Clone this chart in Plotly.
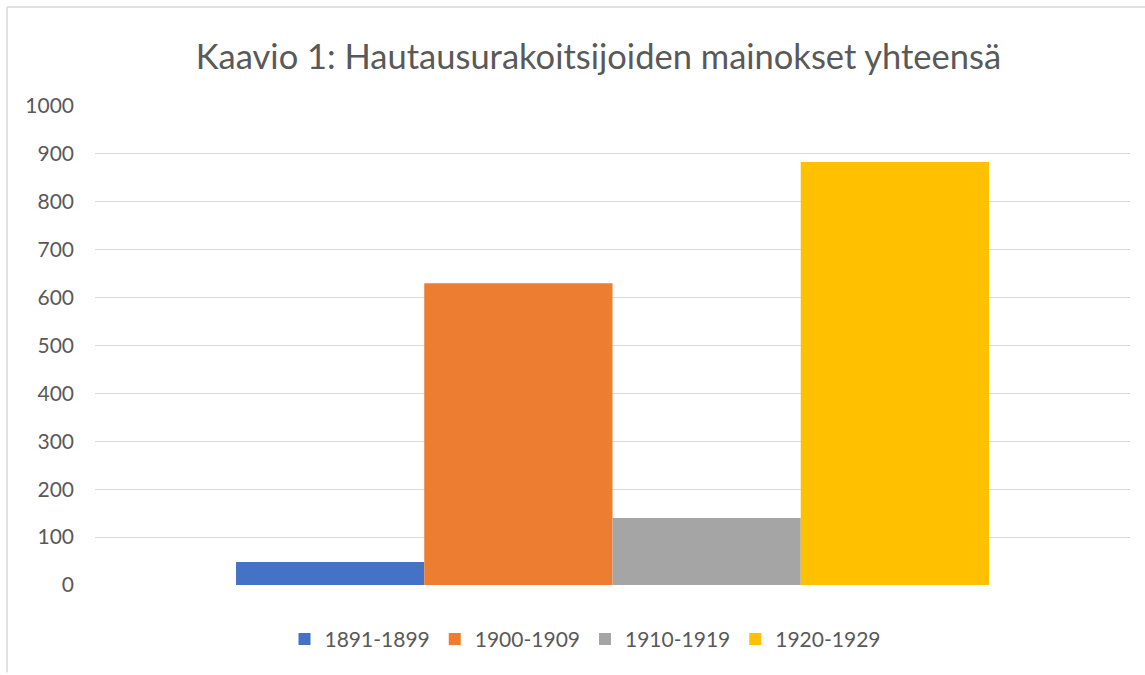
import plotly.graph_objects as go

# Data
category = ["Yhteensä"]
series_names = ["1891-1899", "1900-1909", "1910-1919", "1920-1929"]
series_values = [48, 630, 140, 883]
series_colors = ["#4472C4", "#ED7D31", "#A5A5A5", "#FFC000"]
y_ticks = [0, 100, 200, 300, 400, 500, 600, 700, 800, 900, 1000]

W, H = 1145, 675
L, R, T, B = 95, 15, 106, 89.5
pw, ph = W - L - R, H - T - B

def px_x(x):
    return (x - L) / pw

def px_y(y):
    return (H - B - y) / ph

fig = go.Figure()
for name, val, col in zip(series_names, series_values, series_colors):
    fig.add_trace(go.Bar(x=category, y=[val], name=name, marker_color=col,
                         marker_line_width=0))

text_col = "#595959"
fig.update_layout(
    width=W, height=H,
    margin=dict(l=L, r=R, t=T, b=B, autoexpand=False),
    paper_bgcolor="white", plot_bgcolor="white",
    barmode="group", bargap=0.2725, bargroupgap=0,
    font=dict(family="Lato", color=text_col, size=21),
    title=dict(text="Kaavio 1: Hautausurakoitsijoiden mainokset yhteensä",
               x=598.5 / W, xanchor="center", xref="container",
               y=1 - 57 / H, yanchor="middle", yref="container",
               font=dict(family="Lato", size=34.5, color=text_col)),
    xaxis=dict(showticklabels=False, showgrid=False, zeroline=False,
               showline=False, ticks=""),
    yaxis=dict(range=[0, 1000], tickvals=y_ticks, showgrid=True,
               gridcolor="#d9d9d9", gridwidth=1, zeroline=False,
               showline=False, ticks="", ticklabelstandoff=20,
               tickfont=dict(size=21, color=text_col)),
    legend=dict(orientation="h", x=px_x(585), xanchor="center",
                y=px_y(640), yanchor="middle",
                font=dict(size=21, color=text_col), traceorder="normal"),
    showlegend=True,
)

# chart area border (left and top visible)
fig.add_shape(type="line", xref="paper", yref="paper",
              x0=px_x(7), x1=px_x(7), y0=px_y(7), y1=px_y(673),
              line=dict(color="#d9d9d9", width=1.5))
fig.add_shape(type="line", xref="paper", yref="paper",
              x0=px_x(7), x1=px_x(1150), y0=px_y(7), y1=px_y(7),
              line=dict(color="#d9d9d9", width=1.5))

fig.write_html("out.html",
               config={"displayModeBar": False},
               post_script="document.body.style.margin='0';")
